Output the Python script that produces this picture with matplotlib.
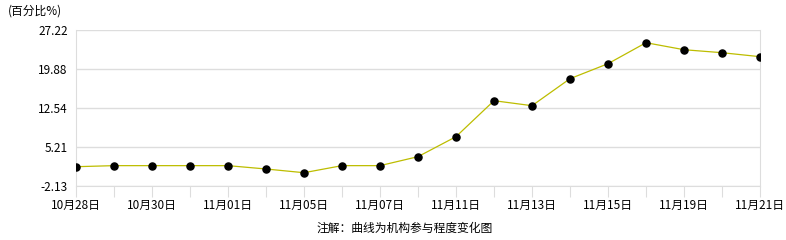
import matplotlib
matplotlib.use("Agg")
import matplotlib.pyplot as plt

plt.rcParams['font.family'] = ['Noto Sans CJK SC', 'DejaVu Sans']

dates = ["10月28日", "10月29日", "10月30日", "10月31日", "11月01日", "11月04日",
         "11月05日", "11月06日", "11月07日", "11月08日", "11月11日", "11月12日",
         "11月13日", "11月14日", "11月15日", "11月18日", "11月19日", "11月20日",
         "11月21日"]
values = [1.50, 1.70, 1.70, 1.70, 1.70, 1.07, 0.37, 1.70, 1.70, 3.39, 7.15, 13.92,
          12.98, 18.06, 20.88, 24.83, 23.51, 22.95, 22.20]
yticks = [-2.13, 5.21, 12.54, 19.88, 27.22]
ytick_labels = ["-2.13", "5.21", "12.54", "19.88", "27.22"]

fig = plt.figure(figsize=(7.86, 2.40), dpi=100)
ax = fig.add_axes([76/786, 1-186/240, (760-76)/786, 156/240])

x = list(range(len(dates)))
ax.plot(x, values, color="#BDBD00", lw=0.9, zorder=2)
ax.scatter(x, values, s=26, color="black", zorder=3)

ax.set_xlim(0, len(dates)-1)
ax.set_ylim(yticks[0], yticks[-1])
ax.set_yticks(yticks)
ax.set_yticklabels(ytick_labels, fontsize=8.5)
ax.set_xticks(x)
ax.set_xticklabels([d if i % 2 == 0 else "" for i, d in enumerate(dates)], fontsize=8.5)
ax.grid(axis='y', color="#DDDDDD", lw=1)
ax.tick_params(axis='x', length=8, color="#DDDDDD", pad=1)
ax.tick_params(axis='y', length=0, pad=6)
for s in ax.spines.values():
    s.set_color("#DDDDDD")
ax.spines['top'].set_visible(False)

fig.text(8/786, 1-11/240, "(百分比%)", fontsize=8.5, va='center', ha='left')
fig.text(405/786, 1-228/240, "注解：曲线为机构参与程度变化图", fontsize=8.5, va='center', ha='center')

fig.savefig("out.png", dpi=100)
